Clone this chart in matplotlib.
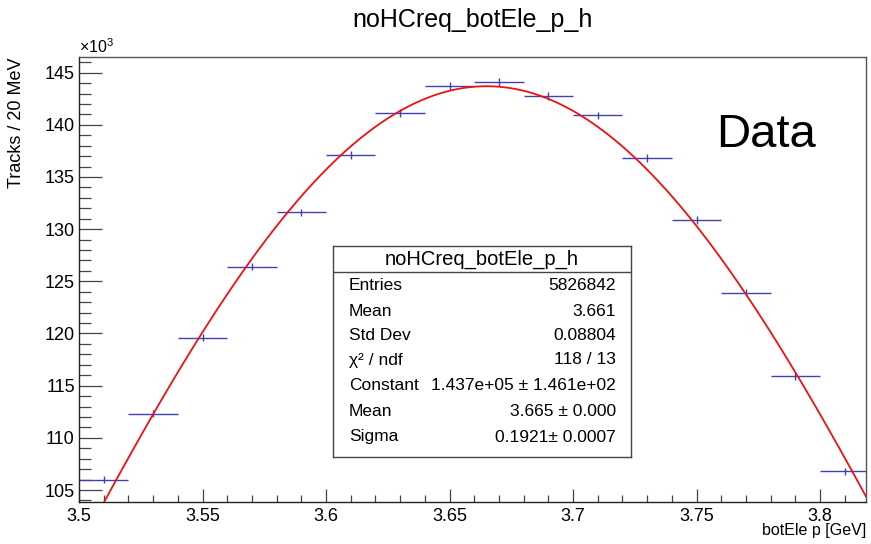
import numpy as np
import matplotlib
matplotlib.use("Agg")
import matplotlib.pyplot as plt
from matplotlib.ticker import MultipleLocator

plt.rcParams['font.family'] = ['Liberation Sans', 'DejaVu Sans']
plt.rcParams['mathtext.fontset'] = 'custom'
plt.rcParams['mathtext.rm'] = 'Liberation Sans'
plt.rcParams['mathtext.it'] = 'Liberation Sans:italic'

# ---- data ----
bin_centers = [3.51, 3.53, 3.55, 3.57, 3.59, 3.61, 3.63, 3.65,
               3.67, 3.69, 3.71, 3.73, 3.75, 3.77, 3.79, 3.81]
counts_k = [106.0, 112.3, 119.6, 126.4, 131.6, 137.1, 141.1, 143.7,
            144.1, 142.8, 140.9, 136.8, 130.9, 123.9, 115.9, 106.8]
bin_half_width = 0.01

fit_constant_k = 143.7
fit_mean = 3.665
fit_sigma = 0.1921

title = "noHCreq_botEle_p_h"
stats_labels = ["Entries", "Mean", "Std Dev", "χ² / ndf", "Constant", "Mean", "Sigma"]
stats_values = ["5826842", "3.661", "0.08804", "118 / 13",
                "1.437e+05 ± 1.461e+02", "3.665 ± 0.000", "0.1921± 0.0007"]

W, H = 871, 544
fig = plt.figure(figsize=(W / 100, H / 100), dpi=100)
ax = fig.add_axes([79 / W, 1 - 502 / H, (866 - 79) / W, (502 - 57) / H])

x = np.array(bin_centers)
y = np.array(counts_k)
yerr = np.sqrt(y * 1000) / 1000
ax.errorbar(x, y, xerr=bin_half_width, yerr=yerr, fmt='none',
            ecolor='#4040b0', elinewidth=1.0, capsize=0, zorder=2)

xf = np.linspace(3.5, 3.82, 400)
yf = fit_constant_k * np.exp(-0.5 * ((xf - fit_mean) / fit_sigma) ** 2)
ax.plot(xf, yf, color='#ee1111', lw=1.3, zorder=3)

ax.set_xlim(3.5, 3.8186)
ax.set_ylim(103.85, 146.5)

ax.xaxis.set_major_locator(MultipleLocator(0.05))
ax.xaxis.set_minor_locator(MultipleLocator(0.01))
ax.yaxis.set_major_locator(MultipleLocator(5))
ax.yaxis.set_minor_locator(MultipleLocator(1))
ax.xaxis.set_major_formatter(plt.FuncFormatter(lambda v, p: f"{v:.2f}".rstrip('0').rstrip('.')))

ax.tick_params(axis='both', which='both', direction='in', top=False, right=False,
               labelsize=13, color='#444444', width=0.9)
ax.tick_params(axis='y', which='major', length=16.5, pad=3)
ax.tick_params(axis='y', which='minor', length=8.5)
ax.tick_params(axis='x', which='major', length=9.5, pad=4)
ax.tick_params(axis='x', which='minor', length=5)
for s in ax.spines.values():
    s.set_color('#555555')
    s.set_linewidth(1.0)
ax.spines['bottom'].set_color('#222222')
ax.spines['left'].set_color('#222222')

# texts
fig.text(473 / W, 1 - 20 / H, title, ha='center', va='center', fontsize=18)
fig.text(79 / W, 1 - 47 / H, r'$\times10^{3}$', ha='left', va='center', fontsize=11.5)
fig.text(17 / W, 1 - 57 / H, "Tracks / 20 MeV", rotation=90, ha='center', va='top', fontsize=13)
fig.text(866 / W, 1 - 531 / H, "botEle p [GeV]", ha='right', va='center', fontsize=11.5)
fig.text(766 / W, 1 - 135 / H, "Data", ha='center', va='center', fontsize=34)

# stats box
bx0, bx1, by0, by1 = 333, 631, 246, 457
sax = fig.add_axes([bx0 / W, 1 - by1 / H, (bx1 - bx0) / W, (by1 - by0) / H])
sax.set_xlim(0, 1)
sax.set_ylim(1, 0)
sax.set_xticks([])
sax.set_yticks([])
sax.set_facecolor('white')
for s in sax.spines.values():
    s.set_color('#444444')
    s.set_linewidth(1.0)
sax.axhline((272 - by0) / (by1 - by0), color='#444444', lw=1.0)
sax.text(0.5, (259 - by0) / (by1 - by0), title, ha='center', va='center', fontsize=14.5)
row_y = [285, 311, 336, 360, 386, 411, 437]
for ry, lab, val in zip(row_y, stats_labels, stats_values):
    fy = (ry - by0) / (by1 - by0)
    sax.text(0.054, fy, lab, ha='left', va='center', fontsize=12.5)
    sax.text(0.95, fy, val, ha='right', va='center', fontsize=12.5)

fig.savefig("out.png", dpi=100)
